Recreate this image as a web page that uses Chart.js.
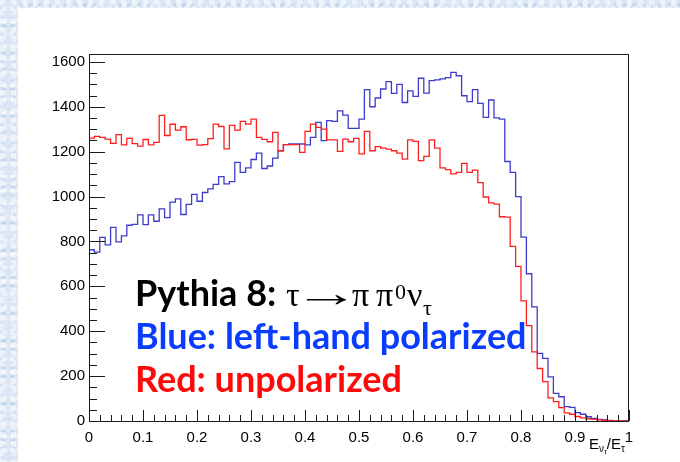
<!DOCTYPE html>
<html>
<head>
<meta charset="utf-8">
<script src="https://cdn.jsdelivr.net/npm/chart.js@4.4.1/dist/chart.umd.min.js"></script>
<style>
html, body { margin: 0; padding: 0; }
body {
    width: 680px; height: 462px; overflow: hidden; position: relative;
    background: #dbe7f5;
    background-image:
        radial-gradient(circle at 20% 30%, rgba(255,255,255,0.55) 0 3px, transparent 4px),
        radial-gradient(circle at 70% 60%, rgba(255,255,255,0.5) 0 2px, transparent 3px),
        radial-gradient(circle at 40% 80%, rgba(170,195,230,0.5) 0 2px, transparent 3px);
    background-size: 11px 9px, 7px 13px, 9px 7px;
}
#panel { position: absolute; left: 18px; top: 8px; right: 0; bottom: 0; background: #fff; }
#chart { position: absolute; left: 0; top: 0; }
.note {
    position: absolute; left: 135px; white-space: nowrap; line-height: 1;
    font-family: Lato, "Open Sans", sans-serif; font-weight: bold; font-size: 36px;
}
.greek {
    position: absolute; white-space: nowrap; line-height: 1; color: #000;
    font-family: "Liberation Serif", "DejaVu Serif", serif; font-size: 34px;
}
.greek.small { font-size: 22px; }
.arrow {
    position: absolute; white-space: nowrap; line-height: 1; color: #000;
    font-family: "Liberation Sans", Arial, sans-serif; font-size: 38px;
    transform: scaleX(1.75); transform-origin: left center;
}
.xtitle {
    position: absolute; left: 589px; top: 435px; font-family: "Liberation Sans", Arial, sans-serif;
    font-size: 15px; color: #000; white-space: nowrap;
}
.xtitle sub { font-size: 10px; vertical-align: -3px; }
.xtitle sub sub { font-size: 7px; vertical-align: -2px; }
</style>
</head>
<body>
<div id="panel"></div>
<canvas id="chart" width="680" height="462"></canvas>
<div class="note" style="top:274px;color:#000">Pythia 8:</div>
<span class="greek" style="left:286px;top:278px">&tau;</span>
<span class="arrow" style="left:293px;top:274px">&rarr;</span>
<span class="greek" style="left:352px;top:278px">&pi;</span>
<span class="greek" style="left:376px;top:278px">&pi;</span>
<span class="greek small" style="left:395px;top:281px">0</span>
<span class="greek" style="left:407px;top:278px">&nu;</span>
<span class="greek small" style="left:423px;top:297px">&tau;</span>
<div class="note" style="top:317px;color:#0a3cff">Blue: left-hand polarized</div>
<div class="note" style="top:360px;color:#ff0a0a">Red: unpolarized</div>
<div class="xtitle">E<sub>&nu;<sub>&tau;</sub></sub>/E<sub>&tau;</sub></div>
<script>
// E_nu / E_tau histograms, 100 bins on [0, 1]
const xMin = 0;
const xMax = 1;
const yMax = 1635;

const unpolarized = [
    1207, 1260, 1268, 1264, 1256, 1237, 1276, 1230, 1259, 1236,
    1225, 1254, 1230, 1241, 1362, 1272, 1322, 1296, 1311, 1253,
    1255, 1229, 1231, 1258, 1323, 1312, 1212, 1317, 1296, 1335,
    1323, 1345, 1264, 1255, 1244, 1286, 1204, 1231, 1231, 1231,
    1197, 1290, 1323, 1308, 1300, 1252, 1252, 1201, 1256, 1244,
    1259, 1190, 1290, 1204, 1222, 1216, 1211, 1204, 1193, 1167,
    1252, 1246, 1160, 1179, 1252, 1216, 1128, 1120, 1101, 1108,
    1148, 1108, 1118, 1062, 998, 972, 966, 910, 908, 778,
    689, 535, 425, 308, 234, 175, 103, 86, 60, 36,
    30, 20, 14, 10, 8, 5, 3, 2, 1, 1
];

const leftPolarized = [
    758, 763, 752, 818, 785, 863, 798, 825, 872, 876,
    918, 875, 918, 890, 945, 906, 975, 990, 920, 965,
    1010, 979, 1018, 1034, 1054, 1089, 1056, 1066, 1152, 1108,
    1128, 1165, 1193, 1125, 1136, 1171, 1204, 1231, 1234, 1234,
    1234, 1230, 1264, 1330, 1249, 1338, 1335, 1382, 1363, 1304,
    1304, 1345, 1476, 1400, 1439, 1479, 1512, 1460, 1500, 1419,
    1471, 1446, 1527, 1461, 1516, 1520, 1524, 1530, 1553, 1538,
    1449, 1423, 1476, 1415, 1353, 1430, 1350, 1345, 1156, 1108,
    1000, 819, 656, 508, 301, 279, 197, 123, 108, 64,
    61, 37, 30, 19, 12, 7, 5, 3, 1, 0
];

const xTickValues = [0, 0.1, 0.2, 0.3, 0.4, 0.5, 0.6, 0.7, 0.8, 0.9, 1];
const xTickLabels = ['0', '0.1', '0.2', '0.3', '0.4', '0.5', '0.6', '0.7', '0.8', '0.9', '1'];
const yTickValues = [0, 200, 400, 600, 800, 1000, 1200, 1400, 1600];
const yTickLabels = ['0', '200', '400', '600', '800', '1000', '1200', '1400', '1600'];

function histPoints(counts) {
    var w = (xMax - xMin) / counts.length;
    var pts = counts.map((c, i) => ({ x: xMin + i * w, y: c }));
    pts.push({ x: xMax, y: counts[counts.length - 1] });
    return pts;
}

// ROOT style frame with ticks inside the pad
const rootFrame = {
    id: 'rootFrame',
    afterDatasetsDraw(chart) {
        var ctx = chart.ctx, a = chart.chartArea;
        var xs = chart.scales.x, ys = chart.scales.y;
        ctx.save();
        ctx.strokeStyle = '#1a1a1a';
        ctx.lineWidth = 1;
        ctx.strokeRect(a.left + 0.5, a.top + 0.5, a.right - a.left - 1, a.bottom - a.top);
        ctx.beginPath();
        for (var k = 0; k * 50 <= yMax; k++) {
            var py = Math.round(ys.getPixelForValue(k * 50)) + 0.5;
            var len = k % 4 === 0 ? 16 : 8;
            ctx.moveTo(a.left, py);
            ctx.lineTo(a.left + len, py);
        }
        for (var j = 0; j <= 50; j++) {
            var px = Math.round(xs.getPixelForValue(j * 0.02)) + 0.5;
            var h = j % 5 === 0 ? 11 : 6;
            ctx.moveTo(px, a.bottom);
            ctx.lineTo(px, a.bottom - h);
        }
        ctx.stroke();
        ctx.restore();
    }
};

new Chart(document.getElementById('chart'), {
    type: 'line',
    data: {
        datasets: [{
            label: 'unpolarized',
            data: histPoints(unpolarized),
            borderColor: 'rgb(255, 30, 30)',
            borderWidth: 1.3,
            stepped: 'after',
            pointRadius: 0,
            fill: false
        }, {
            label: 'left-hand polarized',
            data: histPoints(leftPolarized),
            borderColor: 'rgb(60, 60, 205)',
            borderWidth: 1.3,
            stepped: 'after',
            pointRadius: 0,
            fill: false
        }]
    },
    options: {
        responsive: false,
        animation: false,
        layout: { padding: { left: 0, right: 51, top: 54, bottom: 0 } },
        plugins: { legend: { display: false }, tooltip: { enabled: false } },
        scales: {
            x: {
                type: 'linear', min: xMin, max: xMax,
                grid: { display: false, drawTicks: false }, border: { display: false },
                afterBuildTicks: s => { s.ticks = xTickValues.map(v => ({ value: v })); },
                afterFit: s => { s.height = 41; },
                ticks: {
                    padding: 8, color: '#000', maxRotation: 0, autoSkip: false,
                    font: { family: '"Liberation Sans", Arial, sans-serif', size: 15 },
                    callback: (v, i) => xTickLabels[i]
                }
            },
            y: {
                min: 0, max: yMax,
                grid: { display: false, drawTicks: false }, border: { display: false },
                afterBuildTicks: s => { s.ticks = yTickValues.map(v => ({ value: v })); },
                afterFit: s => { s.width = 89; },
                ticks: {
                    padding: 4, color: '#000', autoSkip: false,
                    font: { family: '"Liberation Sans", Arial, sans-serif', size: 15 },
                    callback: (v, i) => yTickLabels[i]
                }
            }
        }
    },
    plugins: [rootFrame]
});
</script>
</body>
</html>
